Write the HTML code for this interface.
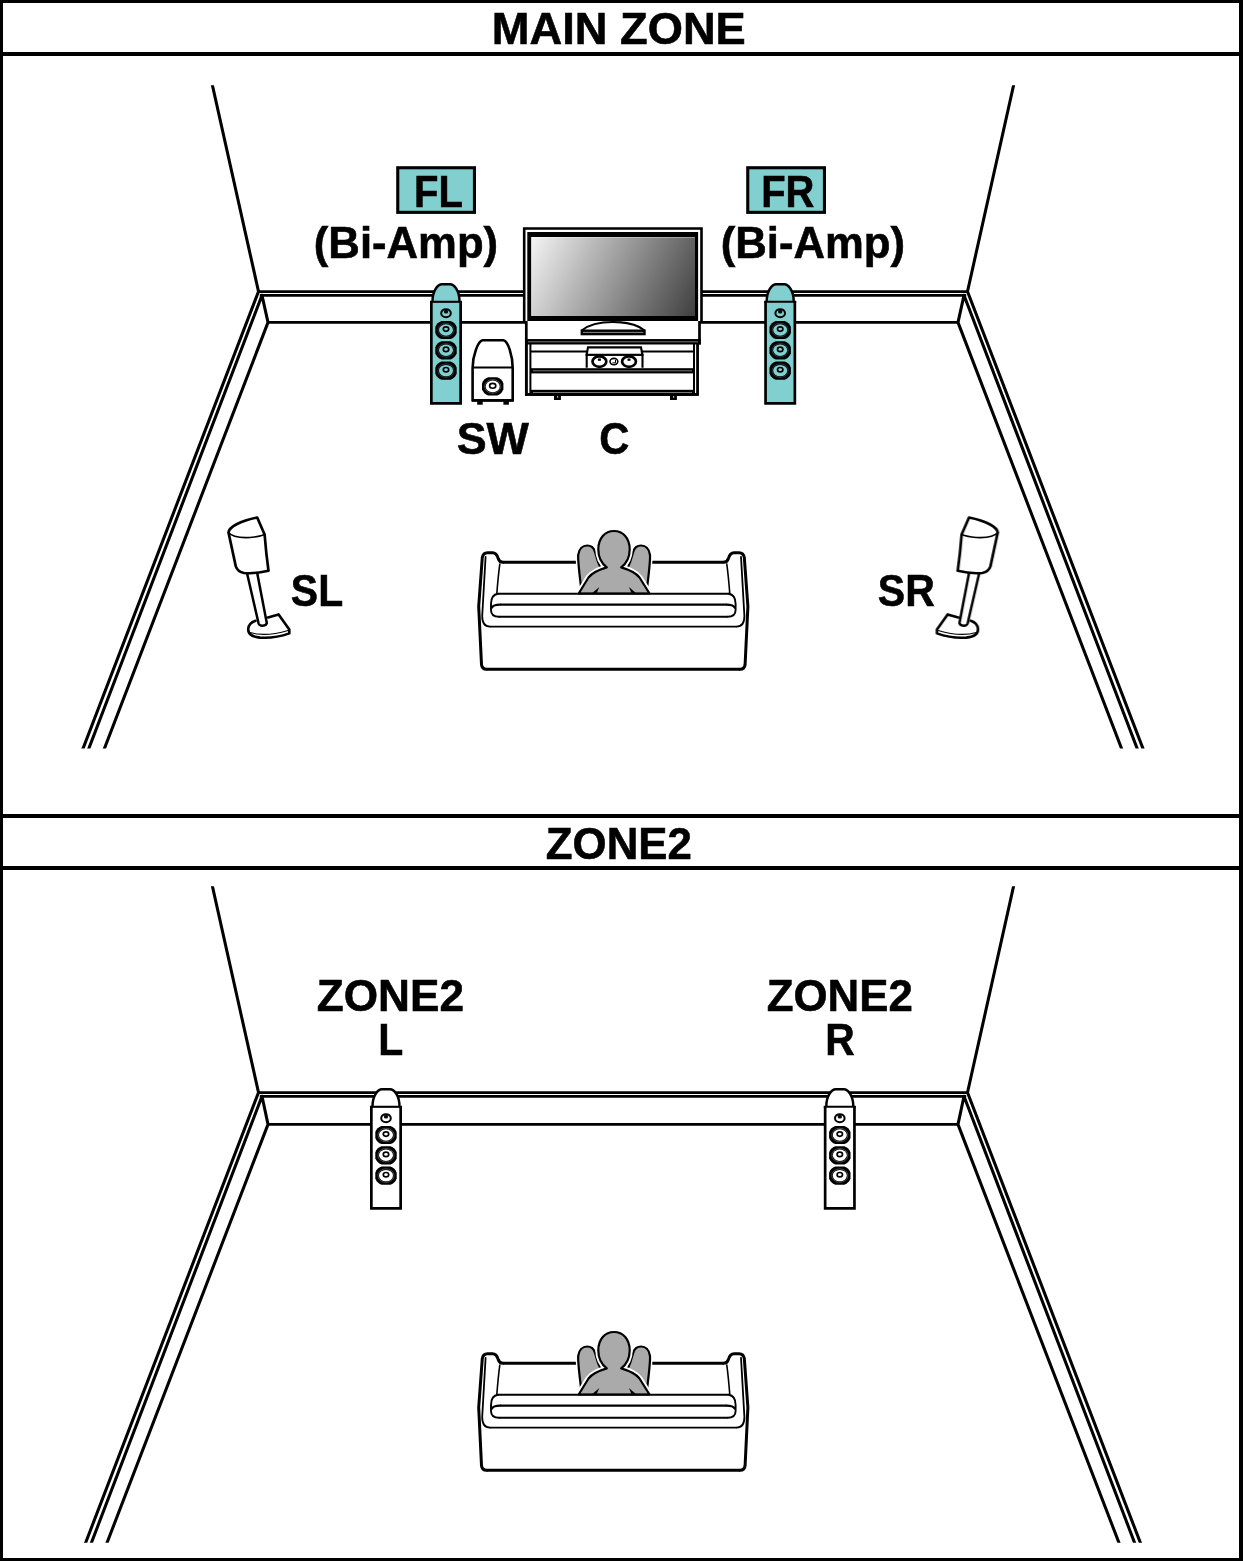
<!DOCTYPE html><html><head><meta charset="utf-8"><style>html,body{margin:0;padding:0;background:#fff;}svg{display:block}</style></head><body>
<svg width="1243" height="1561" viewBox="0 0 1243 1561">
<defs>
<linearGradient id="scr" gradientUnits="userSpaceOnUse" x1="531" y1="237" x2="693.8" y2="318.8"><stop offset="0" stop-color="#f4f4f4"/><stop offset="1" stop-color="#3f3f3f"/></linearGradient>
<clipPath id="c1"><rect x="0" y="85.2" width="1243" height="663.4"/></clipPath>
<clipPath id="c2"><rect x="0" y="886.2" width="1243" height="656.5"/></clipPath>
</defs>
<rect width="1243" height="1561" fill="#fff"/>
<g fill="#000">
<rect x="0" y="0" width="1243" height="3"/>
<rect x="0" y="1558" width="1243" height="3"/>
<rect x="0" y="0" width="3" height="1561"/>
<rect x="1239" y="0" width="4" height="1561"/>
<rect x="0" y="52" width="1243" height="4"/>
<rect x="0" y="814" width="1243" height="4"/>
<rect x="0" y="866" width="1243" height="4"/>
</g>
<path d="M210.09,74.89L258.50,291.50M1015.90,74.89L967.50,291.50M258.50,291.50L74.22,771.46M967.50,291.50L1151.78,771.46M262.00,295.30L80.14,771.27M964.00,295.30L1145.86,771.27M268.00,322.40L96.22,769.91M958.00,322.40L1129.78,769.91M262.00,295.30L268.00,322.40M964.00,295.30L958.00,322.40" fill="none" stroke="#000" stroke-width="3.05" stroke-linecap="round" clip-path="url(#c1)"/><path d="M258.5,291.50H967.50M259.8,295.30H966.20M268,322.40H958.00" fill="none" stroke="#000" stroke-width="2.75"/>
<path d="M210.09,875.88L258.50,1092.50M1015.90,875.88L967.50,1092.50M258.50,1092.50L74.22,1572.45M967.50,1092.50L1151.78,1572.45M262.00,1096.30L80.14,1572.27M964.00,1096.30L1145.86,1572.27M268.00,1124.40L96.22,1570.86M958.00,1124.40L1129.78,1570.86M262.00,1096.30L268.00,1124.40M964.00,1096.30L958.00,1124.40" fill="none" stroke="#000" stroke-width="3.05" stroke-linecap="round" clip-path="url(#c2)"/><path d="M258.5,1092.50H967.50M259.8,1096.30H966.20M268,1124.40H958.00" fill="none" stroke="#000" stroke-width="2.75"/>
<g font-family="'Liberation Sans', sans-serif" font-weight="bold" fill="#000" stroke="#000" stroke-width="1.3" opacity="0.999">
<text transform="translate(491.83,43.90) scale(0.4527,0.4478)" font-size="100">MAIN ZONE</text>
<text transform="translate(313.82,257.80) scale(0.4367,0.4478)" font-size="100">(Bi-Amp)</text>
<text transform="translate(720.72,257.80) scale(0.4369,0.4478)" font-size="100">(Bi-Amp)</text>
<text transform="translate(456.65,453.90) scale(0.4487,0.4478)" font-size="100">SW</text>
<text transform="translate(599.23,453.90) scale(0.4169,0.4478)" font-size="100">C</text>
<text transform="translate(290.87,605.80) scale(0.4090,0.4478)" font-size="100">SL</text>
<text transform="translate(877.87,605.80) scale(0.4104,0.4478)" font-size="100">SR</text>
<text transform="translate(545.78,858.90) scale(0.4383,0.4478)" font-size="100">ZONE2</text>
<text transform="translate(316.67,1010.90) scale(0.4420,0.4478)" font-size="100">ZONE2</text>
<text transform="translate(378.23,1055.00) scale(0.4098,0.4478)" font-size="100">L</text>
<text transform="translate(766.68,1010.90) scale(0.4383,0.4478)" font-size="100">ZONE2</text>
<text transform="translate(825.14,1055.00) scale(0.4079,0.4478)" font-size="100">R</text>
</g>
<rect x="397.75" y="167.75" width="76.70" height="44.60" fill="#82cfd0" stroke="#000" stroke-width="3.1"/>
<g font-family="'Liberation Sans', sans-serif" font-weight="bold" fill="#000" stroke="#000" stroke-width="1.3" opacity="0.999"><text transform="translate(414.10,206.90) scale(0.4000,0.4478)" font-size="100">FL</text></g>
<rect x="747.75" y="167.75" width="76.70" height="44.60" fill="#82cfd0" stroke="#000" stroke-width="3.1"/>
<g font-family="'Liberation Sans', sans-serif" font-weight="bold" fill="#000" stroke="#000" stroke-width="1.3" opacity="0.999"><text transform="translate(761.21,206.90) scale(0.3992,0.4478)" font-size="100">FR</text></g>
<path d="M432.50,301.70C432.40,290.50 438.00,284.20 442.00,284.20H450.00C454.00,284.20 459.60,290.50 459.50,301.70Z" fill="#82cfd0"/><rect x="431.35" y="301.20" width="29.30" height="102.15" fill="#82cfd0"/><path d="M432.50,301.70C432.40,290.50 438.00,284.20 442.00,284.20H450.00C454.00,284.20 459.60,290.50 459.50,301.70" fill="none" stroke="#000" stroke-width="2.4"/><path d="M431.35,301.20V403.35H460.65V301.20" fill="none" stroke="#000" stroke-width="2.7"/><path d="M430.00,301.80H462.00" fill="none" stroke="#000" stroke-width="2.1"/><ellipse cx="446.00" cy="313.20" rx="4.8" ry="4.0" fill="none" stroke="#000" stroke-width="2.0"/><ellipse cx="446.00" cy="311.70" rx="2.2" ry="1.9" fill="#000" opacity="0.95"/><path d="M441.50,320.90H450.50Q455.15,322.45 456.70,327.10V332.90Q455.15,337.55 450.50,339.10H441.50Q436.85,337.55 435.30,332.90V327.10Q436.85,322.45 441.50,320.90Z" fill="#000"/><ellipse cx="446.00" cy="330.00" rx="7.0" ry="5.7" fill="#82cfd0"/><ellipse cx="446.00" cy="330.00" rx="8.1" ry="6.75" fill="none" stroke="#82cfd0" stroke-width="0.45" opacity="0.6"/><ellipse cx="446.00" cy="329.10" rx="2.7" ry="2.2" fill="none" stroke="#000" stroke-width="1.7"/><path d="M441.50,341.20H450.50Q455.15,342.75 456.70,347.40V353.20Q455.15,357.85 450.50,359.40H441.50Q436.85,357.85 435.30,353.20V347.40Q436.85,342.75 441.50,341.20Z" fill="#000"/><ellipse cx="446.00" cy="350.30" rx="7.0" ry="5.7" fill="#82cfd0"/><ellipse cx="446.00" cy="350.30" rx="8.1" ry="6.75" fill="none" stroke="#82cfd0" stroke-width="0.45" opacity="0.6"/><ellipse cx="446.00" cy="349.40" rx="2.7" ry="2.2" fill="none" stroke="#000" stroke-width="1.7"/><path d="M441.50,361.50H450.50Q455.15,363.05 456.70,367.70V373.50Q455.15,378.15 450.50,379.70H441.50Q436.85,378.15 435.30,373.50V367.70Q436.85,363.05 441.50,361.50Z" fill="#000"/><ellipse cx="446.00" cy="370.60" rx="7.0" ry="5.7" fill="#82cfd0"/><ellipse cx="446.00" cy="370.60" rx="8.1" ry="6.75" fill="none" stroke="#82cfd0" stroke-width="0.45" opacity="0.6"/><ellipse cx="446.00" cy="369.70" rx="2.7" ry="2.2" fill="none" stroke="#000" stroke-width="1.7"/>
<path d="M766.70,301.70C766.60,290.50 772.20,284.20 776.20,284.20H784.20C788.20,284.20 793.80,290.50 793.70,301.70Z" fill="#82cfd0"/><rect x="765.55" y="301.20" width="29.30" height="102.15" fill="#82cfd0"/><path d="M766.70,301.70C766.60,290.50 772.20,284.20 776.20,284.20H784.20C788.20,284.20 793.80,290.50 793.70,301.70" fill="none" stroke="#000" stroke-width="2.4"/><path d="M765.55,301.20V403.35H794.85V301.20" fill="none" stroke="#000" stroke-width="2.7"/><path d="M764.20,301.80H796.20" fill="none" stroke="#000" stroke-width="2.1"/><ellipse cx="780.20" cy="313.20" rx="4.8" ry="4.0" fill="none" stroke="#000" stroke-width="2.0"/><ellipse cx="780.20" cy="311.70" rx="2.2" ry="1.9" fill="#000" opacity="0.95"/><path d="M775.70,320.90H784.70Q789.35,322.45 790.90,327.10V332.90Q789.35,337.55 784.70,339.10H775.70Q771.05,337.55 769.50,332.90V327.10Q771.05,322.45 775.70,320.90Z" fill="#000"/><ellipse cx="780.20" cy="330.00" rx="7.0" ry="5.7" fill="#82cfd0"/><ellipse cx="780.20" cy="330.00" rx="8.1" ry="6.75" fill="none" stroke="#82cfd0" stroke-width="0.45" opacity="0.6"/><ellipse cx="780.20" cy="329.10" rx="2.7" ry="2.2" fill="none" stroke="#000" stroke-width="1.7"/><path d="M775.70,341.20H784.70Q789.35,342.75 790.90,347.40V353.20Q789.35,357.85 784.70,359.40H775.70Q771.05,357.85 769.50,353.20V347.40Q771.05,342.75 775.70,341.20Z" fill="#000"/><ellipse cx="780.20" cy="350.30" rx="7.0" ry="5.7" fill="#82cfd0"/><ellipse cx="780.20" cy="350.30" rx="8.1" ry="6.75" fill="none" stroke="#82cfd0" stroke-width="0.45" opacity="0.6"/><ellipse cx="780.20" cy="349.40" rx="2.7" ry="2.2" fill="none" stroke="#000" stroke-width="1.7"/><path d="M775.70,361.50H784.70Q789.35,363.05 790.90,367.70V373.50Q789.35,378.15 784.70,379.70H775.70Q771.05,378.15 769.50,373.50V367.70Q771.05,363.05 775.70,361.50Z" fill="#000"/><ellipse cx="780.20" cy="370.60" rx="7.0" ry="5.7" fill="#82cfd0"/><ellipse cx="780.20" cy="370.60" rx="8.1" ry="6.75" fill="none" stroke="#82cfd0" stroke-width="0.45" opacity="0.6"/><ellipse cx="780.20" cy="369.70" rx="2.7" ry="2.2" fill="none" stroke="#000" stroke-width="1.7"/>
<path d="M372.50,1106.70C372.40,1095.50 378.00,1089.20 382.00,1089.20H390.00C394.00,1089.20 399.60,1095.50 399.50,1106.70Z" fill="#fff"/><rect x="371.35" y="1106.20" width="29.30" height="102.15" fill="#fff"/><path d="M372.50,1106.70C372.40,1095.50 378.00,1089.20 382.00,1089.20H390.00C394.00,1089.20 399.60,1095.50 399.50,1106.70" fill="none" stroke="#000" stroke-width="2.4"/><path d="M371.35,1106.20V1208.35H400.65V1106.20" fill="none" stroke="#000" stroke-width="2.7"/><path d="M370.00,1106.80H402.00" fill="none" stroke="#000" stroke-width="2.1"/><ellipse cx="386.00" cy="1118.20" rx="4.8" ry="4.0" fill="none" stroke="#000" stroke-width="2.0"/><ellipse cx="386.00" cy="1116.70" rx="2.2" ry="1.9" fill="#000" opacity="0.95"/><path d="M381.50,1125.90H390.50Q395.15,1127.45 396.70,1132.10V1137.90Q395.15,1142.55 390.50,1144.10H381.50Q376.85,1142.55 375.30,1137.90V1132.10Q376.85,1127.45 381.50,1125.90Z" fill="#000"/><ellipse cx="386.00" cy="1135.00" rx="7.0" ry="5.7" fill="#fff"/><ellipse cx="386.00" cy="1135.00" rx="8.1" ry="6.75" fill="none" stroke="#fff" stroke-width="0.45" opacity="0.6"/><ellipse cx="386.00" cy="1134.10" rx="2.7" ry="2.2" fill="none" stroke="#000" stroke-width="1.7"/><path d="M381.50,1146.20H390.50Q395.15,1147.75 396.70,1152.40V1158.20Q395.15,1162.85 390.50,1164.40H381.50Q376.85,1162.85 375.30,1158.20V1152.40Q376.85,1147.75 381.50,1146.20Z" fill="#000"/><ellipse cx="386.00" cy="1155.30" rx="7.0" ry="5.7" fill="#fff"/><ellipse cx="386.00" cy="1155.30" rx="8.1" ry="6.75" fill="none" stroke="#fff" stroke-width="0.45" opacity="0.6"/><ellipse cx="386.00" cy="1154.40" rx="2.7" ry="2.2" fill="none" stroke="#000" stroke-width="1.7"/><path d="M381.50,1166.50H390.50Q395.15,1168.05 396.70,1172.70V1178.50Q395.15,1183.15 390.50,1184.70H381.50Q376.85,1183.15 375.30,1178.50V1172.70Q376.85,1168.05 381.50,1166.50Z" fill="#000"/><ellipse cx="386.00" cy="1175.60" rx="7.0" ry="5.7" fill="#fff"/><ellipse cx="386.00" cy="1175.60" rx="8.1" ry="6.75" fill="none" stroke="#fff" stroke-width="0.45" opacity="0.6"/><ellipse cx="386.00" cy="1174.70" rx="2.7" ry="2.2" fill="none" stroke="#000" stroke-width="1.7"/>
<path d="M826.30,1106.70C826.20,1095.50 831.80,1089.20 835.80,1089.20H843.80C847.80,1089.20 853.40,1095.50 853.30,1106.70Z" fill="#fff"/><rect x="825.15" y="1106.20" width="29.30" height="102.15" fill="#fff"/><path d="M826.30,1106.70C826.20,1095.50 831.80,1089.20 835.80,1089.20H843.80C847.80,1089.20 853.40,1095.50 853.30,1106.70" fill="none" stroke="#000" stroke-width="2.4"/><path d="M825.15,1106.20V1208.35H854.45V1106.20" fill="none" stroke="#000" stroke-width="2.7"/><path d="M823.80,1106.80H855.80" fill="none" stroke="#000" stroke-width="2.1"/><ellipse cx="839.80" cy="1118.20" rx="4.8" ry="4.0" fill="none" stroke="#000" stroke-width="2.0"/><ellipse cx="839.80" cy="1116.70" rx="2.2" ry="1.9" fill="#000" opacity="0.95"/><path d="M835.30,1125.90H844.30Q848.95,1127.45 850.50,1132.10V1137.90Q848.95,1142.55 844.30,1144.10H835.30Q830.65,1142.55 829.10,1137.90V1132.10Q830.65,1127.45 835.30,1125.90Z" fill="#000"/><ellipse cx="839.80" cy="1135.00" rx="7.0" ry="5.7" fill="#fff"/><ellipse cx="839.80" cy="1135.00" rx="8.1" ry="6.75" fill="none" stroke="#fff" stroke-width="0.45" opacity="0.6"/><ellipse cx="839.80" cy="1134.10" rx="2.7" ry="2.2" fill="none" stroke="#000" stroke-width="1.7"/><path d="M835.30,1146.20H844.30Q848.95,1147.75 850.50,1152.40V1158.20Q848.95,1162.85 844.30,1164.40H835.30Q830.65,1162.85 829.10,1158.20V1152.40Q830.65,1147.75 835.30,1146.20Z" fill="#000"/><ellipse cx="839.80" cy="1155.30" rx="7.0" ry="5.7" fill="#fff"/><ellipse cx="839.80" cy="1155.30" rx="8.1" ry="6.75" fill="none" stroke="#fff" stroke-width="0.45" opacity="0.6"/><ellipse cx="839.80" cy="1154.40" rx="2.7" ry="2.2" fill="none" stroke="#000" stroke-width="1.7"/><path d="M835.30,1166.50H844.30Q848.95,1168.05 850.50,1172.70V1178.50Q848.95,1183.15 844.30,1184.70H835.30Q830.65,1183.15 829.10,1178.50V1172.70Q830.65,1168.05 835.30,1166.50Z" fill="#000"/><ellipse cx="839.80" cy="1175.60" rx="7.0" ry="5.7" fill="#fff"/><ellipse cx="839.80" cy="1175.60" rx="8.1" ry="6.75" fill="none" stroke="#fff" stroke-width="0.45" opacity="0.6"/><ellipse cx="839.80" cy="1174.70" rx="2.7" ry="2.2" fill="none" stroke="#000" stroke-width="1.7"/>
<rect x="526.3" y="340" width="171.2" height="54.5" fill="#fff" stroke="#000" stroke-width="2.6"/><rect x="526" y="320.5" width="173.5" height="19" fill="#fff"/><path d="M526.3,320V395.7M699.5,320V344.6" fill="none" stroke="#000" stroke-width="2.7"/><path d="M530.4,344V393M694,344V393M697.8,344V395" fill="none" stroke="#000" stroke-width="2"/><rect x="525" y="339.1" width="175.8" height="5.4" fill="#000"/><rect x="528" y="341.3" width="170" height="1" fill="#7a7a7a"/><rect x="531" y="368.2" width="163" height="5.2" fill="#000"/><rect x="533" y="370.3" width="159" height="1" fill="#7a7a7a"/><rect x="531" y="389.8" width="163" height="5.9" fill="#000"/><rect x="525" y="393" width="173.7" height="2.7" fill="#000"/><rect x="533" y="392" width="159" height="1" fill="#7a7a7a"/><path d="M531,351.5H693" stroke="#000" stroke-width="2.2"/><rect x="554" y="395" width="6.9" height="5" fill="#000"/><rect x="557" y="396.3" width="1.2" height="1.2" fill="#fff"/><rect x="670" y="395" width="6.9" height="5" fill="#000"/><rect x="673" y="396.3" width="1.2" height="1.2" fill="#fff"/><path d="M524.2,321V228.5H701.5V321" fill="#fff" stroke="#000" stroke-width="2.6"/><rect x="527.3" y="232" width="170.8" height="89" fill="#000"/><rect x="531.2" y="237" width="163.8" height="79" fill="url(#scr)"/><path d="M531.7,315.5V237.5H694.5" fill="none" stroke="#fff" stroke-width="1" opacity="0.35"/><path d="M581.7,330.5C590,323.5 602,322 613,322C624,322 636,323.5 644.6,330.5" fill="#fff" stroke="#000" stroke-width="2.2"/><rect x="580.6" y="329.5" width="65.1" height="5.8" fill="#000"/><rect x="583" y="331.9" width="60.3" height="0.9" fill="#9a9a9a"/><path d="M586.7,367.8V354.8H642.5V367.8" fill="#fff" stroke="#000" stroke-width="2.1"/><path d="M586.6,354.8L588,347.4H641L642.4,354.8Z" fill="#fff" stroke="#000" stroke-width="2.1"/><ellipse cx="599.4" cy="361.6" rx="6.9" ry="5.2" fill="#fff" stroke="#000" stroke-width="2.7"/><rect x="597.9" y="358.5" width="3" height="2.3" fill="#000"/><ellipse cx="629.0" cy="361.6" rx="6.9" ry="5.2" fill="#fff" stroke="#000" stroke-width="2.7"/><rect x="627.5" y="358.5" width="3" height="2.3" fill="#000"/><ellipse cx="613.9" cy="361.6" rx="3.9" ry="3.2" fill="#fff" stroke="#000" stroke-width="1.6"/><path d="M612.5,362.8H615.5V360" fill="none" stroke="#000" stroke-width="1"/>
<path d="M472.6,400.3V368C472.6,356 478,341 482.5,340.3H503.5C508,341 512.7,356 512.7,368V400.3Z" fill="#fff" stroke="#000" stroke-width="2.6"/><path d="M473,367.5H512.5" stroke="#000" stroke-width="2"/><path d="M472,400.4H513.5" stroke="#000" stroke-width="2.6"/><rect x="477.2" y="401" width="5.5" height="3.7" fill="#000"/><rect x="503.4" y="401" width="5.5" height="3.7" fill="#000"/><path d="M488.20,377.30H497.20Q501.85,378.85 503.40,383.50V389.30Q501.85,393.95 497.20,395.50H488.20Q483.55,393.95 482.00,389.30V383.50Q483.55,378.85 488.20,377.30Z" fill="#000"/><ellipse cx="492.7" cy="386.4" rx="7.0" ry="5.8" fill="#fff"/><ellipse cx="492.7" cy="386.4" rx="8.1" ry="6.85" fill="none" stroke="#fff" stroke-width="0.45" opacity="0.6"/><ellipse cx="492.7" cy="385.8" rx="3.1" ry="2.4" fill="none" stroke="#000" stroke-width="1.6"/>
<g fill="none" stroke="#000" stroke-linejoin="round" stroke-linecap="round"><path d="M255.5,620.8C252,622 248.5,625 248.2,629C248,633.5 252,636.8 260,637.6C270,638.3 282,636 289.3,633.4L289.3,629.5L278.6,614.4L268,617.5" fill="#fff" stroke-width="2.6"/><path d="M250,632.5C262,636 278,633.5 288,630.5" stroke-width="1.2"/><path d="M247.1,573.5L258.6,623.5C259.5,626.5 266,626.5 266.8,623L257.2,573" fill="#fff" stroke-width="2.5"/><path d="M228.5,532.5C229,527 240,521 257.2,517.5L264.6,534.5C265.5,546 267,560 268.5,570.8C260,573 250,573.5 244,573C239,572 237,570 235.8,566.4L228.5,532.5Z" fill="#fff" stroke-width="2.7"/><path d="M228.5,532.5C232,537 240,538 250,537.5C256,537 261,536 264.6,534.5" stroke-width="1.6"/></g>
<g transform="translate(1226.3,0) scale(-1,1)" fill="none" stroke="#000" stroke-linejoin="round" stroke-linecap="round"><path d="M255.5,620.8C252,622 248.5,625 248.2,629C248,633.5 252,636.8 260,637.6C270,638.3 282,636 289.3,633.4L289.3,629.5L278.6,614.4L268,617.5" fill="#fff" stroke-width="2.6"/><path d="M250,632.5C262,636 278,633.5 288,630.5" stroke-width="1.2"/><path d="M247.1,573.5L258.6,623.5C259.5,626.5 266,626.5 266.8,623L257.2,573" fill="#fff" stroke-width="2.5"/><path d="M228.5,532.5C229,527 240,521 257.2,517.5L264.6,534.5C265.5,546 267,560 268.5,570.8C260,573 250,573.5 244,573C239,572 237,570 235.8,566.4L228.5,532.5Z" fill="#fff" stroke-width="2.7"/><path d="M228.5,532.5C232,537 240,538 250,537.5C256,537 261,536 264.6,534.5" stroke-width="1.6"/></g>
<g transform="translate(0,0)"><g fill="none" stroke="#000" stroke-linecap="round"><path d="M486.5,669.3C483.5,669.3 481.8,667.5 481.5,664.5L478.7,606.4L482.3,557.5C482.8,554.5 484.5,552.7 487.5,552.7H492.5C495.5,552.7 497.3,555 498.2,558.5C499,561 500.5,562.3 503,562.3" stroke-width="3"/><path d="M485.6,556.8L482.2,616C482.2,622.5 484.5,626.6 490,626.6" stroke-width="1.8"/><path d="M499.8,564C498.3,575 497.5,585 496.8,593.6" stroke-width="1.6"/><path d="M498,593.8C493,594.5 491,598 491,604V610C491,614.5 494,616.7 499,616.7" stroke-width="1.9"/><path d="M492,607.5C493,605.3 496,604.6 500,604.6" stroke-width="2.2"/></g><g transform="translate(1226.6,0) scale(-1,1)" fill="none" stroke="#000" stroke-linecap="round"><path d="M486.5,669.3C483.5,669.3 481.8,667.5 481.5,664.5L478.7,606.4L482.3,557.5C482.8,554.5 484.5,552.7 487.5,552.7H492.5C495.5,552.7 497.3,555 498.2,558.5C499,561 500.5,562.3 503,562.3" stroke-width="3"/><path d="M485.6,556.8L482.2,616C482.2,622.5 484.5,626.6 490,626.6" stroke-width="1.8"/><path d="M499.8,564C498.3,575 497.5,585 496.8,593.6" stroke-width="1.6"/><path d="M498,593.8C493,594.5 491,598 491,604V610C491,614.5 494,616.7 499,616.7" stroke-width="1.9"/><path d="M492,607.5C493,605.3 496,604.6 500,604.6" stroke-width="2.2"/></g><path d="M486.5,669.3H740.1M503,562.3H723.6" fill="none" stroke="#000" stroke-width="3"/><path d="M490,626.6H736.6" fill="none" stroke="#000" stroke-width="1.8"/><path d="M499,616.7H727.6" fill="none" stroke="#000" stroke-width="1.9"/><path d="M500,604.6H726.6" fill="none" stroke="#000" stroke-width="2.2"/></g>
<g transform="translate(0,0)"><path d="M580.9,586C579,570 577.8,561 578.2,555C579,548.5 583,545.5 587,545.5C591,545.5 594,548 595,552C596.5,558 598.5,564 601.5,570L592,590Z" fill="#fff" stroke="#fff" stroke-width="5"/><path d="M580.9,586C579,570 577.8,561 578.2,555C579,548.5 583,545.5 587,545.5C591,545.5 594,548 595,552C596.5,558 598.5,564 601.5,570L592,590Z" fill="#aaaaaa" stroke="#000" stroke-width="2.2"/><path d="M580.9,586C579,570 577.8,561 578.2,555C579,548.5 583,545.5 587,545.5C591,545.5 594,548 595,552C596.5,558 598.5,564 601.5,570L592,590Z" fill="#fff" stroke="#fff" stroke-width="5" transform="translate(1228.2,0) scale(-1,1)"/><path d="M580.9,586C579,570 577.8,561 578.2,555C579,548.5 583,545.5 587,545.5C591,545.5 594,548 595,552C596.5,558 598.5,564 601.5,570L592,590Z" fill="#aaaaaa" stroke="#000" stroke-width="2.2" transform="translate(1228.2,0) scale(-1,1)"/><path d="M578.7,593.5L588.5,577.5C592,573 598,570 606.8,567.4C601.5,563.4 598.3,556.8 598.3,549.3C598.3,538.3 605,531 614,531C623,531 629.7,538.3 629.7,549.3C629.7,556.8 626.5,563.4 621.2,567.4C630,570 636,573 639.5,577.5L649.5,593.5Z" fill="#aaaaaa" stroke="#fff" stroke-width="6" stroke-linejoin="round"/><path d="M578.7,593.5L588.5,577.5C592,573 598,570 606.8,567.4C601.5,563.4 598.3,556.8 598.3,549.3C598.3,538.3 605,531 614,531C623,531 629.7,538.3 629.7,549.3C629.7,556.8 626.5,563.4 621.2,567.4C630,570 636,573 639.5,577.5L649.5,593.5Z" fill="#aaaaaa" stroke="#000" stroke-width="2.2" stroke-linejoin="round"/><path d="M591.7,593.5L599.3,587L596.5,593.5ZM636.5,593.5L628.9,587L631.7,593.5Z" fill="#000"/><path d="M498,593.8H728.6" fill="none" stroke="#000" stroke-width="1.9"/></g>
<g transform="translate(0,801)"><g fill="none" stroke="#000" stroke-linecap="round"><path d="M486.5,669.3C483.5,669.3 481.8,667.5 481.5,664.5L478.7,606.4L482.3,557.5C482.8,554.5 484.5,552.7 487.5,552.7H492.5C495.5,552.7 497.3,555 498.2,558.5C499,561 500.5,562.3 503,562.3" stroke-width="3"/><path d="M485.6,556.8L482.2,616C482.2,622.5 484.5,626.6 490,626.6" stroke-width="1.8"/><path d="M499.8,564C498.3,575 497.5,585 496.8,593.6" stroke-width="1.6"/><path d="M498,593.8C493,594.5 491,598 491,604V610C491,614.5 494,616.7 499,616.7" stroke-width="1.9"/><path d="M492,607.5C493,605.3 496,604.6 500,604.6" stroke-width="2.2"/></g><g transform="translate(1226.6,0) scale(-1,1)" fill="none" stroke="#000" stroke-linecap="round"><path d="M486.5,669.3C483.5,669.3 481.8,667.5 481.5,664.5L478.7,606.4L482.3,557.5C482.8,554.5 484.5,552.7 487.5,552.7H492.5C495.5,552.7 497.3,555 498.2,558.5C499,561 500.5,562.3 503,562.3" stroke-width="3"/><path d="M485.6,556.8L482.2,616C482.2,622.5 484.5,626.6 490,626.6" stroke-width="1.8"/><path d="M499.8,564C498.3,575 497.5,585 496.8,593.6" stroke-width="1.6"/><path d="M498,593.8C493,594.5 491,598 491,604V610C491,614.5 494,616.7 499,616.7" stroke-width="1.9"/><path d="M492,607.5C493,605.3 496,604.6 500,604.6" stroke-width="2.2"/></g><path d="M486.5,669.3H740.1M503,562.3H723.6" fill="none" stroke="#000" stroke-width="3"/><path d="M490,626.6H736.6" fill="none" stroke="#000" stroke-width="1.8"/><path d="M499,616.7H727.6" fill="none" stroke="#000" stroke-width="1.9"/><path d="M500,604.6H726.6" fill="none" stroke="#000" stroke-width="2.2"/></g>
<g transform="translate(0,801)"><path d="M580.9,586C579,570 577.8,561 578.2,555C579,548.5 583,545.5 587,545.5C591,545.5 594,548 595,552C596.5,558 598.5,564 601.5,570L592,590Z" fill="#fff" stroke="#fff" stroke-width="5"/><path d="M580.9,586C579,570 577.8,561 578.2,555C579,548.5 583,545.5 587,545.5C591,545.5 594,548 595,552C596.5,558 598.5,564 601.5,570L592,590Z" fill="#aaaaaa" stroke="#000" stroke-width="2.2"/><path d="M580.9,586C579,570 577.8,561 578.2,555C579,548.5 583,545.5 587,545.5C591,545.5 594,548 595,552C596.5,558 598.5,564 601.5,570L592,590Z" fill="#fff" stroke="#fff" stroke-width="5" transform="translate(1228.2,0) scale(-1,1)"/><path d="M580.9,586C579,570 577.8,561 578.2,555C579,548.5 583,545.5 587,545.5C591,545.5 594,548 595,552C596.5,558 598.5,564 601.5,570L592,590Z" fill="#aaaaaa" stroke="#000" stroke-width="2.2" transform="translate(1228.2,0) scale(-1,1)"/><path d="M578.7,593.5L588.5,577.5C592,573 598,570 606.8,567.4C601.5,563.4 598.3,556.8 598.3,549.3C598.3,538.3 605,531 614,531C623,531 629.7,538.3 629.7,549.3C629.7,556.8 626.5,563.4 621.2,567.4C630,570 636,573 639.5,577.5L649.5,593.5Z" fill="#aaaaaa" stroke="#fff" stroke-width="6" stroke-linejoin="round"/><path d="M578.7,593.5L588.5,577.5C592,573 598,570 606.8,567.4C601.5,563.4 598.3,556.8 598.3,549.3C598.3,538.3 605,531 614,531C623,531 629.7,538.3 629.7,549.3C629.7,556.8 626.5,563.4 621.2,567.4C630,570 636,573 639.5,577.5L649.5,593.5Z" fill="#aaaaaa" stroke="#000" stroke-width="2.2" stroke-linejoin="round"/><path d="M591.7,593.5L599.3,587L596.5,593.5ZM636.5,593.5L628.9,587L631.7,593.5Z" fill="#000"/><path d="M498,593.8H728.6" fill="none" stroke="#000" stroke-width="1.9"/></g>
</svg></body></html>
